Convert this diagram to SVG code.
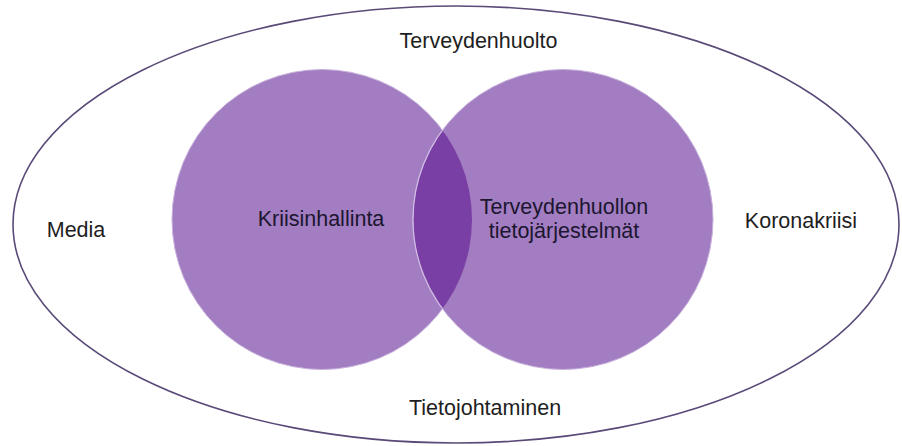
<svg xmlns="http://www.w3.org/2000/svg" width="902" height="446" viewBox="0 0 902 446">
<style>
.lbl{font-family:"Liberation Sans",Arial,sans-serif;font-size:21.5px;fill:#1e1e22;text-anchor:middle}
.in{fill:#1c1630}
.circ{fill:#a27dc1;stroke:#c8b0dc;stroke-width:1}
</style>
<defs>
<clipPath id="clipL"><circle cx="322" cy="219.5" r="150"/></clipPath>
</defs>
<rect width="902" height="446" fill="#ffffff"/>
<g id="outer">
<ellipse cx="456" cy="224.5" rx="443" ry="218.5" fill="none" stroke="#5a4a78" stroke-width="1.6"/>
<text class="lbl" x="478.5" y="48">Terveydenhuolto</text>
<text class="lbl" x="76" y="237">Media</text>
<text class="lbl" x="801" y="228">Koronakriisi</text>
<text class="lbl" x="485" y="415">Tietojohtaminen</text>
</g>
<g id="left-circle">
<circle class="circ" cx="322" cy="219.5" r="150" stroke="none"/>
</g>
<g id="right-circle">
<circle class="circ" cx="563" cy="219.5" r="150" stroke="none"/>
</g>
<g id="overlap">
<circle cx="563" cy="219.5" r="150" fill="#7a3fa5" clip-path="url(#clipL)"/>
<circle cx="563" cy="219.5" r="150" fill="none" stroke="#d2bfe6" stroke-width="1.2" clip-path="url(#clipL)"/>
</g>
<g id="labels">
<text class="lbl in" x="321" y="226">Kriisinhallinta</text>
<text class="lbl in" x="564" y="214">Terveydenhuollon</text>
<text class="lbl in" x="564" y="238">tietojärjestelmät</text>
</g>
</svg>
